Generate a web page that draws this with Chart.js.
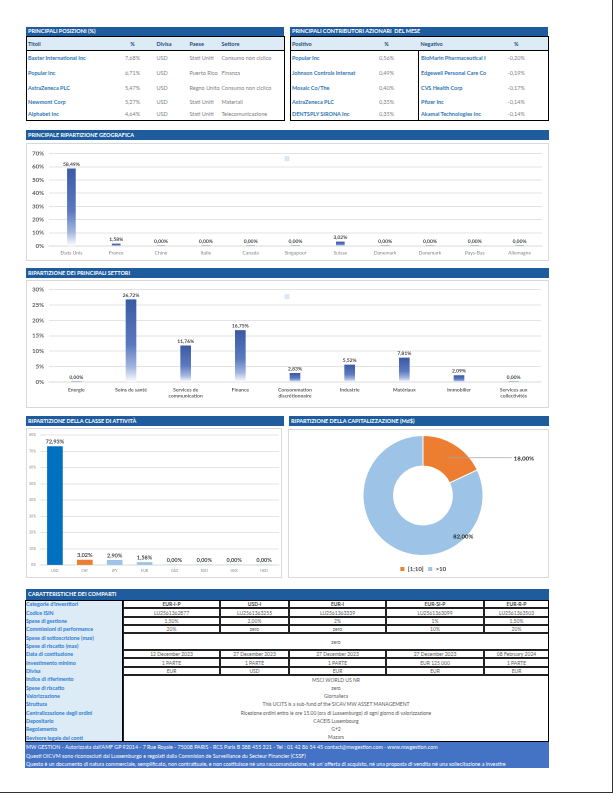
<!DOCTYPE html>
<html><head><meta charset="utf-8">
<script src="https://cdn.jsdelivr.net/npm/chart.js@4.4.1/dist/chart.umd.min.js"></script>
<style>
*{box-sizing:border-box;margin:0;padding:0}
body{width:615px;height:793px;position:relative;background:#fff;font-family:Lato,'Open Sans',sans-serif;overflow:hidden}
.frame{position:absolute;left:0;top:0;width:613px;height:793px;border-right:1px solid #333;border-bottom:1px solid #333}
.hdr{position:absolute;background:#1F5C9E;color:#fff;font-weight:bold;font-size:5.5px;line-height:10px;height:10px;padding-left:2px;white-space:nowrap}
.box{position:absolute;border:1px solid #D9D9D9;background:#fff}
canvas{position:absolute}
table{border-collapse:collapse;table-layout:fixed;position:absolute}
td{white-space:nowrap;overflow:visible;font-size:5.5px;padding:0}
.tt td{vertical-align:middle}
.tt .sub td{background:#DDEBF7;color:#1F4E79;font-weight:bold;height:14px}
.tt .nm{color:#2E75B6;font-weight:bold;padding-left:1px}
.tt .v{color:#808080}
.grid{position:absolute;left:25px;top:600px;width:524px;height:142px;display:grid;
  grid-template-columns:98px 97px 69px 97px 98px 65px;grid-template-rows:repeat(17,8.353px)}
.grid>div{white-space:nowrap;font-size:5px;display:flex;align-items:center;justify-content:center;color:#595959;overflow:visible}
.grid .lbbg{grid-area:1/1/18/2;background:#DDEBF7;border-right:1px solid #000}
.grid .lb{grid-column:1;justify-content:flex-start;padding-left:1px;color:#2B7BD0;font-weight:bold;font-size:5.3px}
.grid .c{border:1px solid #222;background:#fff}
.grid .h{font-weight:bold;color:#404040}
.grid .blk{grid-area:10/2/18/7;border:1px solid #222;display:grid;grid-template-rows:repeat(8,1fr);background:#fff}
.grid .blk>div{display:flex;align-items:center;justify-content:center}
.gridframe{position:absolute;left:25px;top:600px;width:524px;height:142px;border:1px solid #000;pointer-events:none}
.foot{position:absolute;left:25px;top:742px;width:524px;height:26px;background:#4472C4;color:#fff;font-size:5.3px;line-height:8.7px;padding-left:1px;padding-top:1px;white-space:nowrap}
</style></head><body>
<div class="frame"></div>

<!-- Top left table -->
<div class="hdr" style="left:26px;top:27px;width:258px;height:9px;line-height:9px">PRINCIPALI POSIZIONI (%)</div>
<table class="tt" style="left:26px;top:36px;width:258px;border:1px solid #000">
<colgroup><col style="width:96px"><col style="width:20px"><col style="width:45px"><col style="width:32px"><col style="width:65px"></colgroup>
<tr class="sub"><td style="padding-left:1px">Titoli</td><td style="text-align:center">%</td><td style="padding-left:14px">Divisa</td><td style="padding-left:2px">Paese</td><td style="padding-left:2px">Settore</td></tr>
<tr style="height:15px;border-top:1px solid #000"><td class="nm">Baxter International Inc</td><td class="v" style="text-align:center">7,68%</td><td class="v" style="padding-left:14px">USD</td><td class="v" style="padding-left:2px">Stati Uniti</td><td class="v" style="padding-left:2px">Consumo non ciclico</td></tr>
<tr style="height:15px"><td class="nm">Popular Inc</td><td class="v" style="text-align:center">6,71%</td><td class="v" style="padding-left:14px">USD</td><td class="v" style="padding-left:2px">Puerto Rico</td><td class="v" style="padding-left:2px">Finanza</td></tr>
<tr style="height:15px"><td class="nm">AstraZeneca PLC</td><td class="v" style="text-align:center">5,47%</td><td class="v" style="padding-left:14px">USD</td><td class="v" style="padding-left:2px">Regno Unito</td><td class="v" style="padding-left:2px">Consumo non ciclico</td></tr>
<tr style="height:13px"><td class="nm">Newmont Corp</td><td class="v" style="text-align:center">5,27%</td><td class="v" style="padding-left:14px">USD</td><td class="v" style="padding-left:2px">Stati Uniti</td><td class="v" style="padding-left:2px">Materiali</td></tr>
<tr style="height:12px"><td class="nm">Alphabet Inc</td><td class="v" style="text-align:center">4,64%</td><td class="v" style="padding-left:14px">USD</td><td class="v" style="padding-left:2px">Stati Uniti</td><td class="v" style="padding-left:2px">Telecomunicazione</td></tr>
</table>

<!-- Top right table -->
<div class="hdr" style="left:290px;top:27px;width:258px;height:9px;line-height:9px">PRINCIPALI CONTRIBUTORI AZIONARI &nbsp;DEL MESE</div>
<table class="tt" style="left:290px;top:36px;width:258px;border:1px solid #000">
<colgroup><col style="width:74px"><col style="width:44px"><col style="width:10px"><col style="width:66px"><col style="width:64px"></colgroup>
<tr class="sub"><td style="padding-left:1px">Positivo</td><td style="text-align:center">%</td><td></td><td style="padding-left:2px">Negativo</td><td style="text-align:center">%</td></tr>
<tr style="height:15px;border-top:1px solid #000"><td class="nm">Popular Inc</td><td class="v" style="text-align:center">0,56%</td><td></td><td class="nm" style="border-left:1px solid #000;padding-left:2px">BioMarin Pharmaceutical I</td><td class="v" style="text-align:center">-0,20%</td></tr>
<tr style="height:15px"><td class="nm">Johnson Controls Internat</td><td class="v" style="text-align:center">0,49%</td><td></td><td class="nm" style="border-left:1px solid #000;padding-left:2px">Edgewell Personal Care Co</td><td class="v" style="text-align:center">-0,19%</td></tr>
<tr style="height:15px"><td class="nm">Mosaic Co/The</td><td class="v" style="text-align:center">0,40%</td><td></td><td class="nm" style="border-left:1px solid #000;padding-left:2px">CVS Health Corp</td><td class="v" style="text-align:center">-0,17%</td></tr>
<tr style="height:13px"><td class="nm">AstraZeneca PLC</td><td class="v" style="text-align:center">0,35%</td><td></td><td class="nm" style="border-left:1px solid #000;padding-left:2px">Pfizer Inc</td><td class="v" style="text-align:center">-0,14%</td></tr>
<tr style="height:12px"><td class="nm">DENTSPLY SIRONA Inc</td><td class="v" style="text-align:center">0,35%</td><td></td><td class="nm" style="border-left:1px solid #000;padding-left:2px">Akamai Technologies Inc</td><td class="v" style="text-align:center">-0,14%</td></tr>
</table>

<!-- Geo -->
<div class="hdr" style="left:26px;top:130px;width:523px">PRINCIPALE RIPARTIZIONE GEOGRAFICA</div>
<div class="box" style="left:26px;top:143px;width:523px;height:118px"></div>
<canvas id="geo" style="left:27px;top:145px" width="520" height="114"></canvas>

<!-- Sector -->
<div class="hdr" style="left:26px;top:268px;width:523px">RIPARTIZIONE DEI PRINCIPALI SETTORI</div>
<div class="box" style="left:26px;top:280px;width:523px;height:128px"></div>
<canvas id="sec" style="left:27px;top:281px" width="520" height="126"></canvas>

<!-- Asset -->
<div class="hdr" style="left:26px;top:416px;width:258px">RIPARTIZIONE DELLA CLASSE DI ATTIVITÀ</div>
<div class="box" style="left:26px;top:428px;width:256px;height:150px"></div>
<canvas id="asset" style="left:27px;top:429px" width="254" height="147"></canvas>

<!-- Cap -->
<div class="hdr" style="left:289px;top:416px;width:260px">RIPARTIZIONE DELLA CAPITALIZZAZIONE (Md$)</div>
<div class="box" style="left:288px;top:429px;width:261px;height:149px"></div>
<canvas id="cap" style="left:289px;top:422px" width="258" height="160"></canvas>

<!-- Caratteristiche -->
<div class="hdr" style="left:26px;top:589px;width:523px;height:11px;line-height:11px">CARATTERISTICHE DEI COMPARTI</div>
<div class="grid">
  <div class="lbbg"></div>
  <div class="lb" style="grid-row:1">Categorie d'investitori</div>
  <div class="lb" style="grid-row:2">Codice ISIN</div>
  <div class="lb" style="grid-row:3">Spese di gestione</div>
  <div class="lb" style="grid-row:4">Commissioni di performance</div>
  <div class="lb" style="grid-row:5">Spese di sottoscrizione (max)</div>
  <div class="lb" style="grid-row:6">Spese di riscatto (max)</div>
  <div class="lb" style="grid-row:7">Data di costituzione</div>
  <div class="lb" style="grid-row:8">Investimento minimo</div>
  <div class="lb" style="grid-row:9">Divisa</div>
  <div class="lb" style="grid-row:10">Indice di riferimento</div>
  <div class="lb" style="grid-row:11">Spese di riscatto</div>
  <div class="lb" style="grid-row:12">Valorizzazione</div>
  <div class="lb" style="grid-row:13">Struttura</div>
  <div class="lb" style="grid-row:14">Centralizzazione degli ordini</div>
  <div class="lb" style="grid-row:15">Depositario</div>
  <div class="lb" style="grid-row:16">Regolamento</div>
  <div class="lb" style="grid-row:17">Revisore legale dei conti</div>

  <div class="c h" style="grid-area:1/2">EUR-I-P</div><div class="c h" style="grid-area:1/3">USD-I</div><div class="c h" style="grid-area:1/4">EUR-I</div><div class="c h" style="grid-area:1/5">EUR-SI-P</div><div class="c h" style="grid-area:1/6">EUR-R-P</div>
  <div class="c" style="grid-area:2/2">LU2561362877</div><div class="c" style="grid-area:2/3">LU2561363255</div><div class="c" style="grid-area:2/4">LU2561363339</div><div class="c" style="grid-area:2/5">LU2561363099</div><div class="c" style="grid-area:2/6">LU2561363503</div>
  <div class="c" style="grid-area:3/2">1,50%</div><div class="c" style="grid-area:3/3">2,00%</div><div class="c" style="grid-area:3/4">2%</div><div class="c" style="grid-area:3/5">1%</div><div class="c" style="grid-area:3/6">1,50%</div>
  <div class="c" style="grid-area:4/2">20%</div><div class="c" style="grid-area:4/3">zero</div><div class="c" style="grid-area:4/4">zero</div><div class="c" style="grid-area:4/5">10%</div><div class="c" style="grid-area:4/6">20%</div>
  <div class="c" style="grid-area:5/2/7/7">zero</div>
  <div class="c" style="grid-area:7/2">12 December 2023</div><div class="c" style="grid-area:7/3">27 December 2023</div><div class="c" style="grid-area:7/4">27 December 2023</div><div class="c" style="grid-area:7/5">27 December 2023</div><div class="c" style="grid-area:7/6">08 February 2024</div>
  <div class="c" style="grid-area:8/2">1 PARTE</div><div class="c" style="grid-area:8/3">1 PARTE</div><div class="c" style="grid-area:8/4">1 PARTE</div><div class="c" style="grid-area:8/5">EUR 125 000</div><div class="c" style="grid-area:8/6">1 PARTE</div>
  <div class="c" style="grid-area:9/2">EUR</div><div class="c" style="grid-area:9/3">USD</div><div class="c" style="grid-area:9/4">EUR</div><div class="c" style="grid-area:9/5">EUR</div><div class="c" style="grid-area:9/6">EUR</div>
  <div class="blk">
    <div>MSCI WORLD US NR</div>
    <div>zero</div>
    <div>Giornaliera</div>
    <div>This UCITS is a sub-fund of the SICAV MW ASSET MANAGEMENT</div>
    <div>Ricezione ordini entro le ore 15.00 (ora di Lussemburgo) di ogni giorno di valorizzazione</div>
    <div>CACEIS Luxembourg</div>
    <div>G+2</div>
    <div>Mazars</div>
  </div>
</div>
<div class="gridframe"></div>

<div class="foot">
<div>MW GESTION - Autorizzata dall'AMF GP 92014 - 7 Rue Royale - 75008 PARIS - RCS Paris B 388 455 321 - Tel : 01 42 86 54 45 contact@mwgestion.com - www.mwgestion.com</div>
<div>Questi OICVM sono riconosciuti dal Lussemburgo e regolati dalla Commision de Surveillance du Secteur Financier (CSSF)</div>
<div>Questo è un documento di natura commerciale, semplificato, non contrattuale, e non costituisce né una raccomandazione, né un`offerta di acquisto, né una proposta di vendita né una sollecitazione a investire</div>
</div>

<script>
// ---------- DATA ----------
const geoCategories = ['Etats Unis','France','Chine','Italie','Canada','Singapour','Suisse','Danemark','Danemark','Pays-Bas','Allemagne'];
const geoValues = [58.49, 1.58, 0.00, 0.00, 0.00, 0.00, 3.02, 0.00, 0.00, 0.00, 0.00];
const geoTickMax = 70;

const sectorCategories = [['Energie'],['Soins de santé'],['Services de','communication'],['Finance'],['Consommation','discrétionnaire'],['Industrie'],['Matériaux'],['Immobilier'],['Services aux','collectivités']];
const sectorValues = [0.00, 26.72, 11.76, 16.75, 2.83, 5.52, 7.81, 2.09, 0.00];
const sectorTickMax = 30;

const assetCategories = ['USD','CHF','JPY','EUR','CAD','SGD','DKK','HKD'];
const assetValues = [72.93, 3.02, 2.90, 1.58, 0.00, 0.00, 0.00, 0.00];
const assetTickMax = 80;

const capCategories = ['[1;10]','>10'];
const capValues = [18.00, 82.00];

// ---------- STYLE ----------
const assetColors = ['#0070C0','#ED7D31','#9DC3E6','#9DC3E6','#9DC3E6','#9DC3E6','#9DC3E6','#9DC3E6'];
const capColors = ['#ED7D31','#9DC3E6'];

Chart.defaults.font.family = 'Lato, "Open Sans", sans-serif';
Chart.defaults.animation = false;
Chart.defaults.responsive = false;
Chart.defaults.devicePixelRatio = 2;

const fmt = v => v.toFixed(2).replace('.', ',') + '%';

function barGradient(ctx) {
  const chart = ctx.chart;
  if (!chart.chartArea || ctx.type !== 'data') return '#4A68B0';
  const ys = chart.scales.y;
  const top = ys.getPixelForValue(ctx.raw), base = ys.getPixelForValue(0);
  if (base - top < 1) return '#4A68B0';
  const g = chart.ctx.createLinearGradient(0, top, 0, base);
  g.addColorStop(0, '#3B5BA5');
  g.addColorStop(0.55, '#5C7AC0');
  g.addColorStop(0.82, '#A3B6E0');
  g.addColorStop(1, '#FFFFFF');
  return g;
}

const barLabels = {
  id: 'barLabels',
  afterDatasetsDraw(chart, args, opts) {
    const c = chart.ctx;
    chart.data.datasets.forEach((ds, i) => {
      chart.getDatasetMeta(i).data.forEach((el, j) => {
        c.save();
        c.font = 'bold ' + opts.size + 'px Lato, "Open Sans", sans-serif';
        c.fillStyle = opts.color || '#404040';
        c.textAlign = 'center';
        c.textBaseline = 'bottom';
        c.fillText(fmt(ds.data[j]), el.x, el.y - opts.offset);
        c.restore();
      });
    });
  }
};

// places the (text-less) legend key at the top centre of the plot, as in the original
const legendMover = {
  id: 'legendMover',
  afterLayout(chart, args, opts) {
    const l = chart.legend;
    if (!l || !opts || !opts.enabled) return;
    const w = l.width;
    l.left = chart.width / 2 - 2.5 - 2;
    l.right = l.left + w;
    l.top = chart.chartArea.top + opts.dy;
    l.bottom = l.top + 10;
  }
};

function emptyLegend() {
  return {
    display: true,
    position: 'chartArea',
    align: 'start',
    labels: {
      boxWidth: 5, boxHeight: 5, padding: 2, font: {size: 5},
      generateLabels: () => [{text: '', fillStyle: '#DCE6F2', strokeStyle: '#DCE6F2', lineWidth: 0, hidden: false, datasetIndex: 0}]
    }
  };
}

function barChart(id, labels, values, max, step, o) {
  return new Chart(document.getElementById(id), {
    type: 'bar',
    data: {labels: labels, datasets: [{data: values, backgroundColor: o.colors || barGradient, barThickness: o.barW, borderWidth: 0}]},
    options: {
      layout: {padding: o.padding},
      plugins: {
        legend: o.legend ? emptyLegend() : {display: false},
        legendMover: {enabled: !!o.legend, dy: o.legendDy || 0},
        tooltip: {enabled: false},
        barLabels: {size: o.labelSize, offset: 2, color: '#404040'}
      },
      scales: {
        x: {
          grid: {display: false, drawTicks: false},
          border: {color: '#D9D9D9'},
          ticks: {font: {size: o.xFont, weight: o.xBold ? 'bold' : 'normal'}, color: o.xColor, padding: o.xPad, maxRotation: 0, autoSkip: false},
          afterFit: s => { s.height = o.xH; }
        },
        y: {
          min: 0, max: max,
          grid: {color: '#E3E3E3', drawTicks: false},
          border: {display: false},
          ticks: {stepSize: step, font: {size: o.yFont, weight: o.yBold ? 'bold' : 'normal'}, color: o.yColor, padding: o.yPad, callback: v => v + '%'},
          afterFit: s => { s.width = o.yW; }
        }
      }
    },
    plugins: [barLabels, legendMover]
  });
}

barChart('geo', geoCategories, geoValues, geoTickMax, 10, {
  barW: 8, padding: {top: 5, right: 5, left: 0, bottom: 0}, legend: true, legendDy: 0.5, labelSize: 5,
  xFont: 5, xColor: '#7F7F7F', xPad: 4, xH: 13, yFont: 6, yBold: true, yColor: '#595959', yPad: 5, yW: 22
});

barChart('sec', sectorCategories, sectorValues, sectorTickMax, 5, {
  barW: 10, padding: {top: 5, right: 6, left: 0, bottom: 0}, legend: true, legendDy: 2.5, labelSize: 5,
  xFont: 5, xBold: true, xColor: '#595959', xPad: 5, xH: 25, yFont: 6, yBold: true, yColor: '#595959', yPad: 5, yW: 22
});

barChart('asset', assetCategories, assetValues, assetTickMax, 10, {
  barW: 15, colors: assetColors, padding: {top: 3, right: 2, left: 0, bottom: 0}, legend: false, labelSize: 5.5,
  xFont: 3.5, xColor: '#7F7F7F', xPad: 4, xH: 11, yFont: 3.5, yColor: '#7F7F7F', yPad: 4, yW: 13
});

const capLabels = {
  id: 'capLabels',
  afterDatasetsDraw(chart) {
    const c = chart.ctx;
    const meta = chart.getDatasetMeta(0);
    const vals = chart.data.datasets[0].data;
    meta.data.forEach((arc, i) => {
      const p = arc.getProps(['x','y','startAngle','endAngle','innerRadius','outerRadius'], true);
      c.save();
      c.font = 'bold 6px Lato, "Open Sans", sans-serif';
      c.fillStyle = '#262626';
      c.textBaseline = 'middle';
      if (i === 0) {
        const mid = (p.startAngle + p.endAngle) / 2;
        const r = (p.innerRadius + p.outerRadius) / 2;
        const sx = p.x + Math.cos(mid) * r, sy = p.y + Math.sin(mid) * r;
        const ex = p.x + p.outerRadius * 1.48;
        c.strokeStyle = '#A6A6A6'; c.lineWidth = 0.8;
        c.beginPath(); c.moveTo(sx, sy); c.lineTo(ex, sy); c.stroke();
        c.textAlign = 'left';
        c.fillText(fmt(vals[i]), ex + 2, sy + 1);
      } else {
        const a = p.startAngle + 0.24 * (p.endAngle - p.startAngle);
        const r = p.outerRadius * 0.96;
        c.textAlign = 'center';
        c.fillText(fmt(vals[i]), p.x + Math.cos(a) * r, p.y + Math.sin(a) * r);
      }
      c.restore();
    });
  }
};

new Chart(document.getElementById('cap'), {
  type: 'doughnut',
  data: {labels: capCategories, datasets: [{data: capValues, backgroundColor: capColors, borderColor: '#FFFFFF', borderWidth: 1}]},
  options: {
    radius: 60,
    cutout: '49%',
    layout: {padding: {top: 7, left: 10}},
    plugins: {
      tooltip: {enabled: false},
      legend: {position: 'bottom', labels: {boxWidth: 5, boxHeight: 5, padding: 4, color: '#404040', font: {size: 6, weight: 'bold'}}}
    }
  },
  plugins: [capLabels]
});
</script>
</body></html>
